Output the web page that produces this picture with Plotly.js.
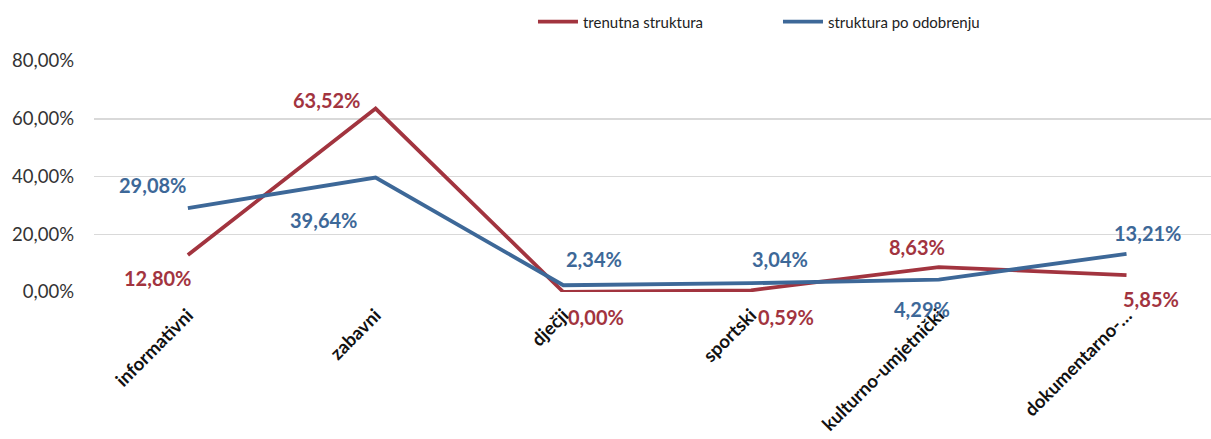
<!DOCTYPE html>
<html><head><meta charset="utf-8">
<script src="https://cdn.plot.ly/plotly-3.0.1.min.js"></script>
<style>html,body{margin:0;padding:0;background:#fff}#chart{width:1211px;height:439px}</style>
</head><body><div id="chart"></div>
<script>
const categories = ["informativni", "zabavni", "dječji", "sportski", "kulturno-umjetnički", "dokumentarno-…"];
const trenutna = [12.80, 63.52, 0.00, 0.59, 8.63, 5.85];
const poOdobrenju = [29.08, 39.64, 2.34, 3.04, 4.29, 13.21];
const seriesNames = ["trenutna struktura", "struktura po odobrenju"];
const yTicks = [0, 20, 40, 60, 80];

// label offsets (px) for data labels: [dx, dy]
const offTrenutna = [[-30, 23], [-49, -9], [33, 25], [35, 27], [-22, -20], [24, 24]];
const offOdobrenju = [[-35, -23], [-52, 42], [31, -26], [29, -24], [-17, 29], [21, -21]];

const red = "#A2343F", blue = "#3D6898";
const fmt = v => v.toFixed(2).replace('.', ',') + '%';

const traces = [
  {x: categories, y: trenutna, name: seriesNames[0], type: 'scatter', mode: 'lines',
   line: {color: red, width: 3.8}, hoverinfo: 'skip'},
  {x: categories, y: poOdobrenju, name: seriesNames[1], type: 'scatter', mode: 'lines',
   line: {color: blue, width: 3.8}, hoverinfo: 'skip'}
];

const annotations = [];
function addLabels(vals, offs, color) {
  vals.forEach((v, i) => {
    annotations.push({x: categories[i], y: v, xref: 'x', yref: 'y', text: fmt(v), showarrow: false,
      xshift: offs[i][0], yshift: -offs[i][1], xanchor: 'center', yanchor: 'middle',
      font: {family: 'Lato, sans-serif', size: 20, color: color, weight: 'bold'}});
  });
}
addLabels(trenutna, offTrenutna, red);
addLabels(poOdobrenju, offOdobrenju, blue);

const layout = {
  width: 1211, height: 439,
  margin: {l: 94, r: 0, t: 61, b: 147},
  paper_bgcolor: '#fff', plot_bgcolor: '#fff',
  separators: ',.',
  showlegend: true,
  legend: {orientation: 'h', x: 0.393, y: 0.95, xref: 'paper', yref: 'container',
    xanchor: 'left', yanchor: 'middle', entrywidth: 190,
    font: {family: 'Lato, sans-serif', size: 15, color: '#222'}, itemwidth: 40},
  xaxis: {type: 'category', range: [-0.5, 5.45], showgrid: false, zeroline: false, showline: false,
    tickangle: -45, ticks: '', automargin: false, ticklabelstandoff: 8,
    tickfont: {family: 'Lato, sans-serif', size: 18.5, color: '#111', weight: 'bold'}},
  yaxis: {range: [0, 80], tickvals: yTicks, ticktext: yTicks.map(fmt), showgrid: true,
    gridcolor: '#d9d9d9', gridwidth: 1.5, zeroline: false, showline: false, ticks: '',
    ticklabelstandoff: 19, automargin: false,
    tickfont: {family: 'Lato, sans-serif', size: 18.5, color: '#333'}},
  annotations: annotations
};

Plotly.newPlot('chart', traces, layout, {displayModeBar: false, staticPlot: true});
</script></body></html>
